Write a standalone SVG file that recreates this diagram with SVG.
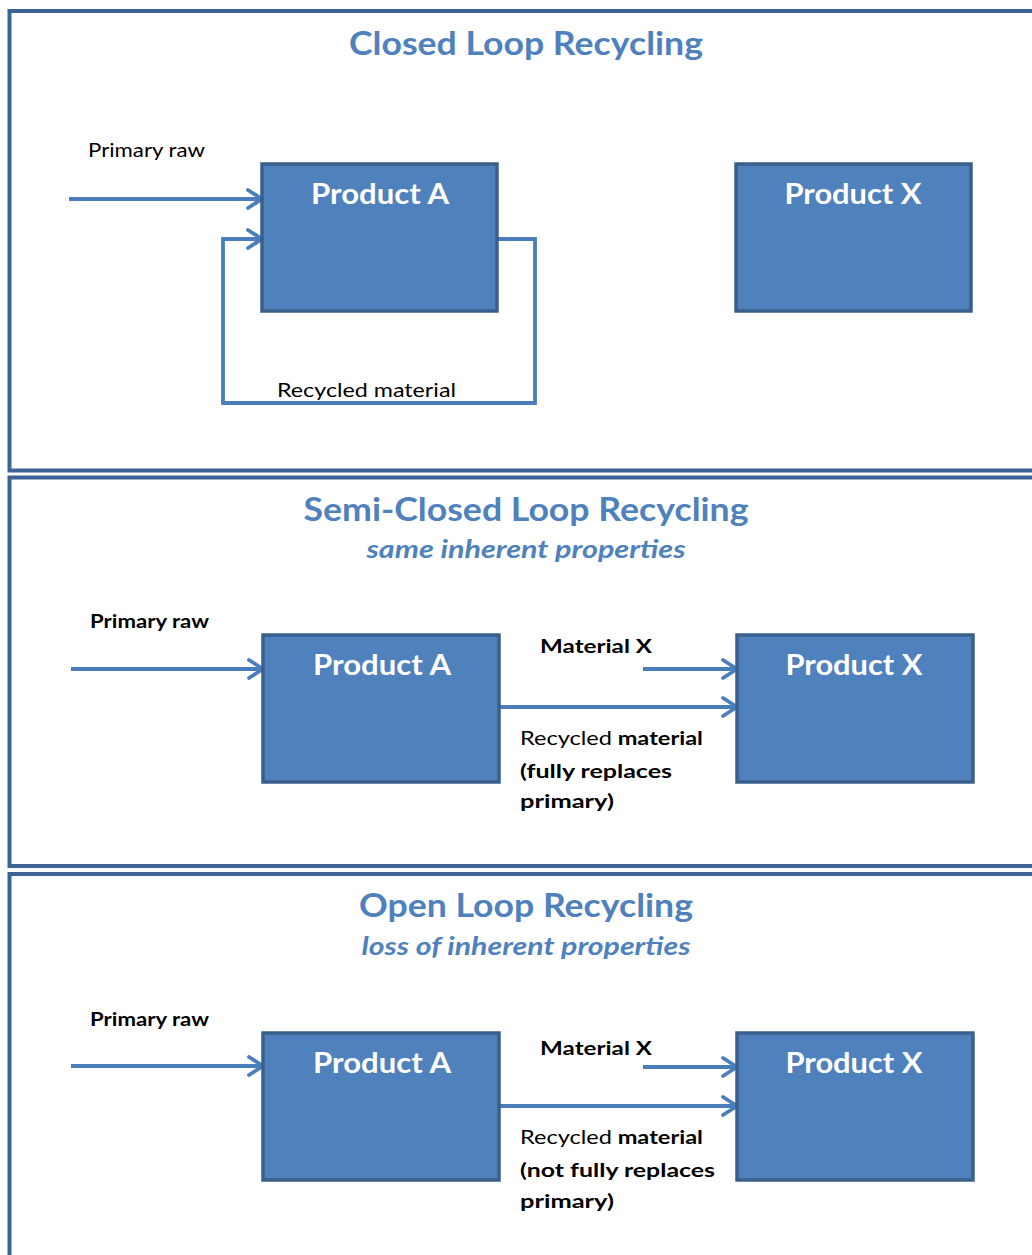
<svg xmlns="http://www.w3.org/2000/svg" width="1032" height="1255" viewBox="0 0 1032 1255">
<style>
.frame{fill:#ffffff;stroke:#3b6394;stroke-width:4}
.box{fill:#4f81bd;stroke:#3a5f8c;stroke-width:3.5}
.conn{fill:none;stroke:#4a7ebb;stroke-width:3.8}
.title{font-family:Lato,"Open Sans",sans-serif;font-weight:bold;fill:#4f81bd;font-size:32px;text-anchor:middle}
.sub{font-family:Lato,"Open Sans",sans-serif;font-weight:bold;font-style:italic;fill:#4f81bd;font-size:24px;text-anchor:middle}
.prod{font-family:Lato,"Open Sans",sans-serif;font-weight:bold;fill:#ffffff;font-size:28px;text-anchor:middle}
.lbl{font-family:Lato,"Open Sans",sans-serif;fill:#000000;font-size:19px}
.lblb{font-family:Lato,"Open Sans",sans-serif;font-weight:bold;fill:#000000;font-size:19px}
.reg{font-weight:normal}
</style>
<defs>
<marker id="chev" markerUnits="userSpaceOnUse" orient="auto" overflow="visible" markerWidth="1" markerHeight="1" refX="0" refY="0">
<path d="M-14,-9 L0,0 L-14,9" fill="none" stroke="#4a7ebb" stroke-width="3.8" stroke-linecap="round" stroke-linejoin="round"/>
</marker>
</defs>
<rect width="1032" height="1255" fill="#ffffff"/>

<g id="panel-closed">
<rect class="frame" x="9.5" y="11" width="1040" height="459.5"/>
<text class="title" x="526" y="55" textLength="354" lengthAdjust="spacingAndGlyphs">Closed Loop Recycling</text>
</g>
<g id="panel-semi">
<rect class="frame" x="9.5" y="477.5" width="1040" height="388.5"/>
<text class="title" x="526" y="521" textLength="445" lengthAdjust="spacingAndGlyphs">Semi-Closed Loop Recycling</text>
<text class="sub" x="526" y="558" textLength="319" lengthAdjust="spacingAndGlyphs">same inherent properties</text>
</g>
<g id="panel-open">
<rect class="frame" x="9.5" y="874" width="1040" height="420"/>
<text class="title" x="526" y="917" textLength="334" lengthAdjust="spacingAndGlyphs">Open Loop Recycling</text>
<text class="sub" x="526" y="955" textLength="329" lengthAdjust="spacingAndGlyphs">loss of inherent properties</text>
</g>

<g id="connectors">
<path class="conn" d="M69,199 L262,199" marker-end="url(#chev)"/>
<path class="conn" d="M497,239 L535,239 L535,403 L223,403 L223,239 L262,239" marker-end="url(#chev)"/>
<path class="conn" d="M71,669 L263,669" marker-end="url(#chev)"/>
<path class="conn" d="M643,669 L737,669" marker-end="url(#chev)"/>
<path class="conn" d="M499,707 L737,707" marker-end="url(#chev)"/>
<path class="conn" d="M71,1066 L263,1066" marker-end="url(#chev)"/>
<path class="conn" d="M643,1067 L737,1067" marker-end="url(#chev)"/>
<path class="conn" d="M499,1106 L737,1106" marker-end="url(#chev)"/>
</g>

<g id="closed-productA">
<rect class="box" x="262" y="164" width="235" height="147"/>
<text class="prod" x="380" y="204" textLength="138" lengthAdjust="spacingAndGlyphs">Product A</text>
</g>
<g id="closed-productX">
<rect class="box" x="736" y="164" width="235" height="147"/>
<text class="prod" x="853" y="204" textLength="137" lengthAdjust="spacingAndGlyphs">Product X</text>
</g>
<g id="closed-labels">
<text class="lbl" x="88" y="157" textLength="117" lengthAdjust="spacingAndGlyphs">Primary raw</text>
<text class="lbl" x="277" y="397" textLength="179" lengthAdjust="spacingAndGlyphs">Recycled material</text>
</g>

<g id="semi-productA">
<rect class="box" x="263" y="635" width="236" height="147"/>
<text class="prod" x="382" y="675" textLength="138" lengthAdjust="spacingAndGlyphs">Product A</text>
</g>
<g id="semi-productX">
<rect class="box" x="737" y="635" width="236" height="147"/>
<text class="prod" x="854" y="675" textLength="137" lengthAdjust="spacingAndGlyphs">Product X</text>
</g>
<g id="semi-labels">
<text class="lblb" x="90" y="628" textLength="119" lengthAdjust="spacingAndGlyphs">Primary raw</text>
<text class="lblb" x="540" y="653" textLength="112" lengthAdjust="spacingAndGlyphs">Material X</text>
<text class="lblb" x="520" y="745" textLength="183" lengthAdjust="spacingAndGlyphs"><tspan class="reg">Recycled</tspan> material</text>
<text class="lblb" x="520" y="778" textLength="152" lengthAdjust="spacingAndGlyphs">(fully replaces</text>
<text class="lblb" x="520" y="808" textLength="94" lengthAdjust="spacingAndGlyphs">primary)</text>
</g>

<g id="open-productA">
<rect class="box" x="263" y="1033" width="236" height="147"/>
<text class="prod" x="382" y="1073" textLength="138" lengthAdjust="spacingAndGlyphs">Product A</text>
</g>
<g id="open-productX">
<rect class="box" x="737" y="1033" width="236" height="147"/>
<text class="prod" x="854" y="1073" textLength="137" lengthAdjust="spacingAndGlyphs">Product X</text>
</g>
<g id="open-labels">
<text class="lblb" x="90" y="1026" textLength="119" lengthAdjust="spacingAndGlyphs">Primary raw</text>
<text class="lblb" x="540" y="1055" textLength="112" lengthAdjust="spacingAndGlyphs">Material X</text>
<text class="lblb" x="520" y="1144" textLength="183" lengthAdjust="spacingAndGlyphs"><tspan class="reg">Recycled</tspan> material</text>
<text class="lblb" x="520" y="1177" textLength="195" lengthAdjust="spacingAndGlyphs">(not fully replaces</text>
<text class="lblb" x="520" y="1208" textLength="94" lengthAdjust="spacingAndGlyphs">primary)</text>
</g>
</svg>
